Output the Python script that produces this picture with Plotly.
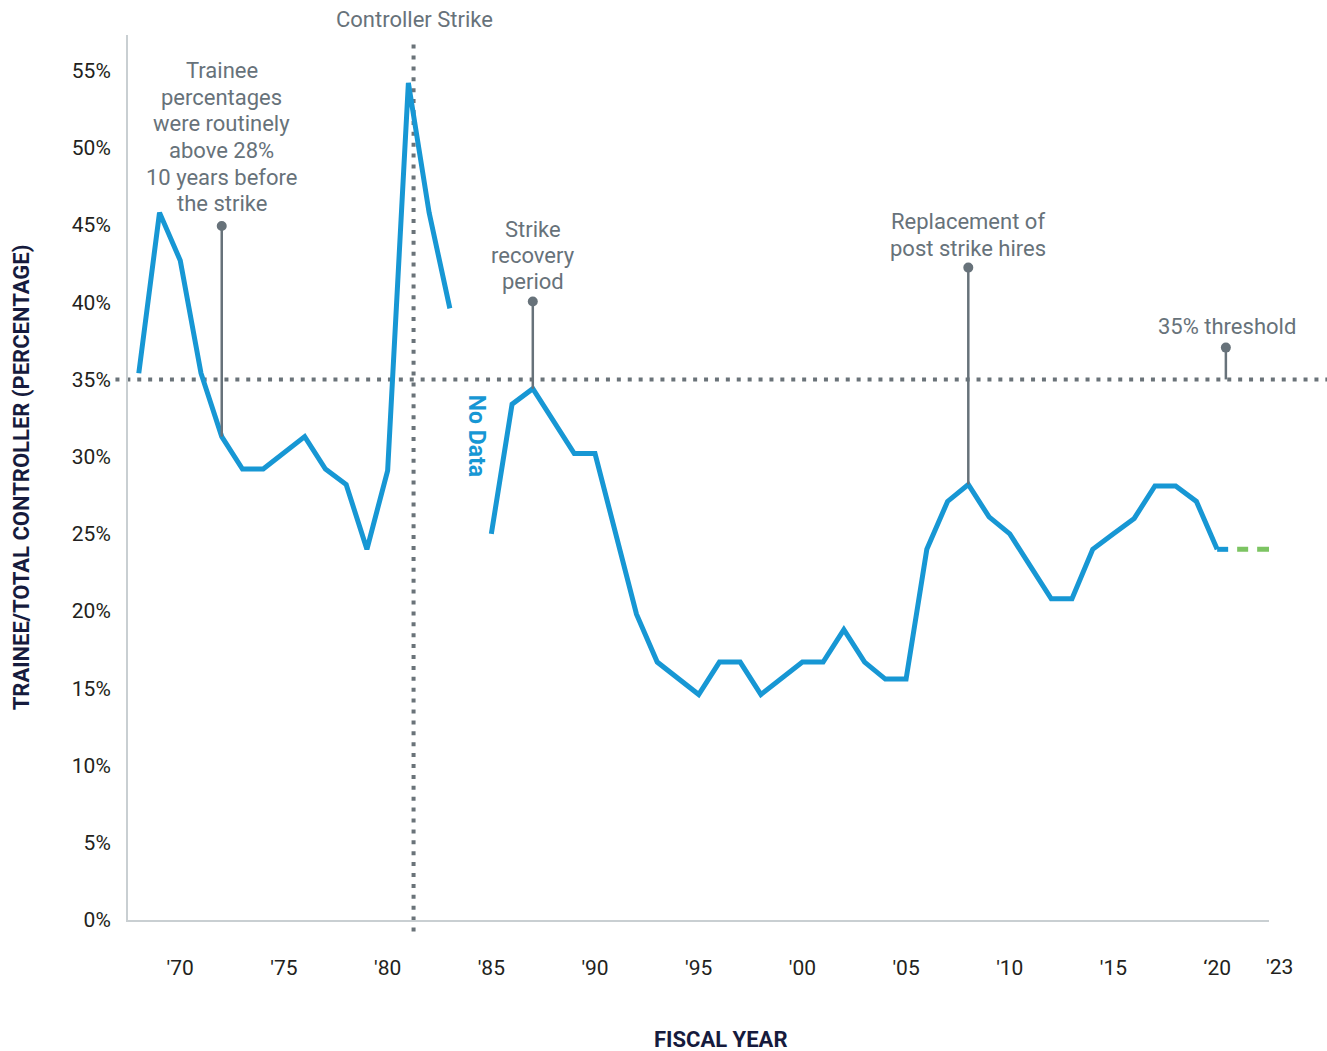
import plotly.graph_objects as go

# Trainee share of the controller workforce by fiscal year (percent)
years = list(range(1968, 2021))
trainee_pct = [
    35.4, 45.8, 42.7, 35.4, 31.3, 29.2, 29.2, 30.2, 31.3, 29.2,   # 1968-1977
    28.2, 24.0, 29.1, 54.2, 45.8, 39.6, None, 25.0, 33.4, 34.4,   # 1978-1987
    32.3, 30.2, 30.2, 25.0, 19.8, 16.7, 15.6, 14.6, 16.7, 16.7,   # 1988-1997
    14.6, 15.6, 16.7, 16.7, 18.8, 16.7, 15.6, 15.6, 24.0, 27.1,   # 1998-2007
    28.2, 26.1, 25.0, 22.9, 20.8, 20.8, 24.0, 25.0, 26.0, 28.1,   # 2008-2017
    28.1, 27.1, 24.0,                                             # 2018-2020
]

# Level carried forward past the last reported year
proj_years = [2020, 2022.5]
proj_pct = [24.0, 24.0]

threshold_pct = 35
strike_year = 1981.25

tick_years = [1970, 1975, 1980, 1985, 1990, 1995, 2000, 2005, 2010, 2015, 2020]
tick_text = ["'70", "'75", "'80", "'85", "'90", "'95", "'00", "'05", "'10", "'15", "\u201820"]
y_ticks = [0, 5, 10, 15, 20, 25, 30, 35, 40, 45, 50, 55]
y_tick_text = [f"{v}%" for v in y_ticks]

BLUE = "#1797d4"
GREEN = "#7cc462"
GRAY = "#67727a"
DOT = "#6a7379"
INK = "#231f20"
NAVY = "#161b3d"
AXIS = "#c9cfd2"
FONT = "Roboto, Liberation Sans, sans-serif"

fig = go.Figure()

fig.add_trace(go.Scatter(
    x=years, y=trainee_pct, mode="lines", connectgaps=False,
    line=dict(color=BLUE, width=5), hoverinfo="skip", showlegend=False,
))
# short solid stub after the last actual value, then the projected dashes
fig.add_trace(go.Scatter(
    x=proj_years, y=proj_pct, mode="lines",
    line=dict(color=BLUE, width=5, dash="11px,200px"), hoverinfo="skip", showlegend=False,
))
fig.add_trace(go.Scatter(
    x=proj_years, y=proj_pct, mode="lines",
    line=dict(color=GREEN, width=5, dash="0px,20px,11px,9px,12px,200px"),
    hoverinfo="skip", showlegend=False,
))

shapes = []
# 35% threshold and strike marker (dotted)
shapes.append(dict(type="line", xref="paper", yref="y", x0=-0.011, x1=1.06,
                   y0=threshold_pct, y1=threshold_pct, layer="below",
                   line=dict(color=DOT, width=4, dash="4px,6.9px")))
shapes.append(dict(type="line", xref="x", yref="paper", x0=strike_year, x1=strike_year,
                   y0=-0.013, y1=0.993, layer="below",
                   line=dict(color=DOT, width=4, dash="4px,6.9px")))

# callout pins: (x, bottom value, top value)
pins = [
    (1972, 31.3, 44.93),
    (1987, 34.4, 40.04),
    (2008, 28.2, 42.24),
    (2020.42, 35.0, 37.06),
]
for px_, y_lo, y_hi in pins:
    shapes.append(dict(type="line", xref="x", yref="y", x0=px_, x1=px_, y0=y_lo, y1=y_hi,
                       line=dict(color=GRAY, width=2.5), layer="above"))
    shapes.append(dict(type="circle", xref="x", yref="y", xsizemode="pixel", ysizemode="pixel",
                       xanchor=px_, yanchor=y_hi, x0=-5, x1=5, y0=-5, y1=5,
                       fillcolor=GRAY, line=dict(width=0), layer="above"))

annotations = []


def label(x, y, text, size=22, color=GRAY, xref="x", yref="y", weight="normal", angle=0):
    annotations.append(dict(
        x=x, y=y, xref=xref, yref=yref, text=text, showarrow=False,
        xanchor="center", yanchor="middle", textangle=angle,
        font=dict(family=FONT, size=size, color=color, weight=weight),
    ))


trainee_lines = ["Trainee", "percentages", "were routinely", "above 28%",
                 "10 years before", "the strike"]
for i, t in enumerate(trainee_lines):
    label(1972, 55.0 - i * 1.725, t)

for i, t in enumerate(["Strike", "recovery", "period"]):
    label(1987, 44.73 - i * 1.70, t)

for i, t in enumerate(["Replacement of", "post strike hires"]):
    label(2008, 45.22 - i * 1.77, t)

label(2020.49, 38.43, "35% threshold")
label(1981.3, 1.018, "Controller Strike", yref="paper")
label(1984.26, 31.35, "No Data", size=23, color=BLUE, weight="bold", angle=90)
# final fiscal-year tick past the end of the axis line
label(1.009, -0.053, "'23", size=21, color=INK, xref="paper", yref="paper")
# x-axis title
label(0.519, -0.135, "FISCAL YEAR", size=22, color=NAVY, xref="paper", yref="paper",
      weight="bold")

fig.update_layout(
    width=1327, height=1051,
    margin=dict(l=128, r=58, t=35, b=131),
    paper_bgcolor="white", plot_bgcolor="white",
    font=dict(family=FONT, color=INK),
    shapes=shapes, annotations=annotations,
    xaxis=dict(
        range=[1967.48, 2022.5], tickvals=tick_years, ticktext=tick_text,
        showgrid=False, zeroline=False, showline=True, linecolor=AXIS, linewidth=2,
        ticks="", ticklabelstandoff=28, automargin=False,
        tickfont=dict(size=21, color=INK, family=FONT),
    ),
    yaxis=dict(
        range=[0, 57.3], tickvals=y_ticks, ticktext=y_tick_text,
        showgrid=False, zeroline=False, showline=True, linecolor=AXIS, linewidth=2,
        ticks="", ticklabelstandoff=11, automargin=False,
        tickfont=dict(size=21, color=INK, family=FONT),
        title=dict(text="TRAINEE/TOTAL CONTROLLER (PERCENTAGE)", standoff=36,
                   font=dict(size=22, color=NAVY, family=FONT, weight="bold")),
    ),
)

fig.write_html("out.html")
